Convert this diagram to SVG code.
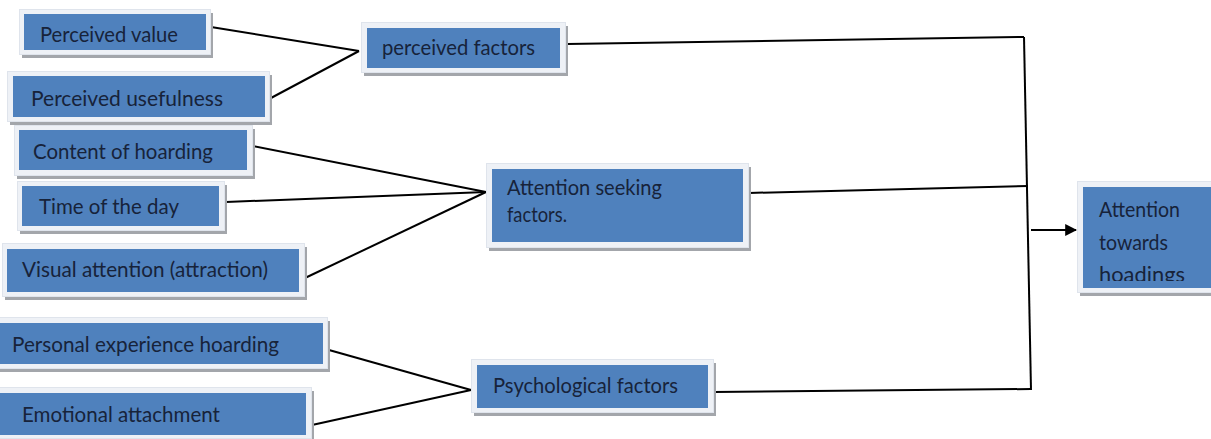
<svg xmlns="http://www.w3.org/2000/svg" width="1211" height="439" viewBox="0 0 1211 439">
<defs>
<style>
.sh{fill:#a3a6ab}
.fr{fill:#eef1f6;stroke:#dfe4ec;stroke-width:1}
.bx{fill:#4f81bd}
.t{font-family:Lato,"Liberation Sans",sans-serif;font-size:22px;fill:#17233a}
.c{fill:none;stroke:#000;stroke-width:2}
</style>
<marker id="ah" viewBox="0 0 10 10" refX="9" refY="5" markerWidth="6" markerHeight="6" orient="auto" markerUnits="strokeWidth">
<path d="M0,0 L10,5 L0,10 z" fill="#000"/>
</marker>
<clipPath id="clipT"><rect x="1083" y="187" width="128" height="94"/></clipPath>
</defs>
<rect width="1211" height="439" fill="#fff"/>
<g id="connectors">
<line class="c" x1="211" y1="27" x2="359" y2="51"/>
<line class="c" x1="271" y1="98" x2="359" y2="51"/>
<line class="c" x1="567" y1="44" x2="1024" y2="37"/>
<line class="c" x1="1024" y1="37" x2="1031" y2="390"/>
<line class="c" x1="749" y1="193" x2="1028" y2="186"/>
<line class="c" x1="714" y1="392" x2="1031" y2="389"/>
<line class="c" x1="1031" y1="230" x2="1076" y2="230" marker-end="url(#ah)"/>
<line class="c" x1="253" y1="146" x2="486" y2="192"/>
<line class="c" x1="226" y1="202" x2="486" y2="192"/>
<line class="c" x1="305" y1="278" x2="486" y2="192"/>
<line class="c" x1="329" y1="350" x2="471" y2="390"/>
<line class="c" x1="312" y1="425" x2="471" y2="390"/>
</g>
<g id="n-perceived-value">
<rect class="sh" x="22" y="13" width="191" height="45"/>
<rect class="fr" x="19.5" y="9.5" width="191" height="45"/>
<rect class="bx" x="24" y="14" width="182" height="36"/>
<text class="t" x="40" y="42" textLength="138" lengthAdjust="spacingAndGlyphs">Perceived value</text>
</g>
<g id="n-perceived-usefulness">
<rect class="sh" x="10" y="75" width="262" height="50"/>
<rect class="fr" x="7.5" y="71.5" width="262" height="50"/>
<rect class="bx" x="13" y="76" width="252" height="41"/>
<text class="t" x="31" y="106" textLength="192" lengthAdjust="spacingAndGlyphs">Perceived usefulness</text>
</g>
<g id="n-perceived-factors">
<rect class="sh" x="364" y="26" width="204" height="50"/>
<rect class="fr" x="361.5" y="22.5" width="204" height="50"/>
<rect class="bx" x="367" y="28" width="193" height="40"/>
<text class="t" x="382" y="55" textLength="153" lengthAdjust="spacingAndGlyphs">perceived factors</text>
</g>
<g id="n-content">
<rect class="sh" x="17" y="129" width="238" height="50"/>
<rect class="fr" x="14.5" y="125.5" width="238" height="50"/>
<rect class="bx" x="19" y="130" width="228" height="40"/>
<text class="t" x="33" y="159" textLength="180" lengthAdjust="spacingAndGlyphs">Content of hoarding</text>
</g>
<g id="n-time">
<rect class="sh" x="20" y="185" width="207" height="49"/>
<rect class="fr" x="17.5" y="181.5" width="207" height="49"/>
<rect class="bx" x="22" y="186" width="197" height="40"/>
<text class="t" x="39" y="214" textLength="140" lengthAdjust="spacingAndGlyphs">Time of the day</text>
</g>
<g id="n-visual">
<rect class="sh" x="5" y="247" width="302" height="53"/>
<rect class="fr" x="2.5" y="243.5" width="302" height="53"/>
<rect class="bx" x="7" y="249" width="292" height="43"/>
<text class="t" x="22" y="277" textLength="246" lengthAdjust="spacingAndGlyphs">Visual attention (attraction)</text>
</g>
<g id="n-attention-seeking">
<rect class="sh" x="489" y="167" width="262" height="84"/>
<rect class="fr" x="486.5" y="163.5" width="262" height="84"/>
<rect class="bx" x="492" y="169" width="251" height="73"/>
<text class="t" x="507" y="195" textLength="155" lengthAdjust="spacingAndGlyphs">Attention seeking</text>
<text class="t" x="507" y="222" textLength="60" lengthAdjust="spacingAndGlyphs">factors.</text>
</g>
<g id="n-personal">
<rect class="sh" x="0" y="321" width="330" height="51"/>
<rect class="fr" x="-2.5" y="317.5" width="330" height="51"/>
<rect class="bx" x="0" y="323" width="323" height="41"/>
<text class="t" x="12" y="352" textLength="267" lengthAdjust="spacingAndGlyphs">Personal experience hoarding</text>
</g>
<g id="n-emotional">
<rect class="sh" x="0" y="391" width="314" height="51"/>
<rect class="fr" x="-2.5" y="387.5" width="314" height="51"/>
<rect class="bx" x="0" y="393" width="306" height="42"/>
<text class="t" x="22" y="422" textLength="198" lengthAdjust="spacingAndGlyphs">Emotional attachment</text>
</g>
<g id="n-psychological">
<rect class="sh" x="474" y="363" width="242" height="53"/>
<rect class="fr" x="471.5" y="359.5" width="242" height="53"/>
<rect class="bx" x="477" y="365" width="231" height="43"/>
<text class="t" x="493" y="393" textLength="185" lengthAdjust="spacingAndGlyphs">Psychological factors</text>
</g>
<g id="n-attention-towards">
<rect class="sh" x="1080" y="185" width="133" height="111"/>
<rect class="fr" x="1077.5" y="181.5" width="135" height="111"/>
<rect class="bx" x="1083" y="187" width="128" height="101"/>
<g clip-path="url(#clipT)">
<text class="t" x="1099" y="217" textLength="81" lengthAdjust="spacingAndGlyphs">Attention</text>
<text class="t" x="1099" y="250" textLength="69" lengthAdjust="spacingAndGlyphs">towards</text>
<text class="t" x="1099" y="282" textLength="86" lengthAdjust="spacingAndGlyphs">hoadings</text>
</g>
</g>
</svg>
